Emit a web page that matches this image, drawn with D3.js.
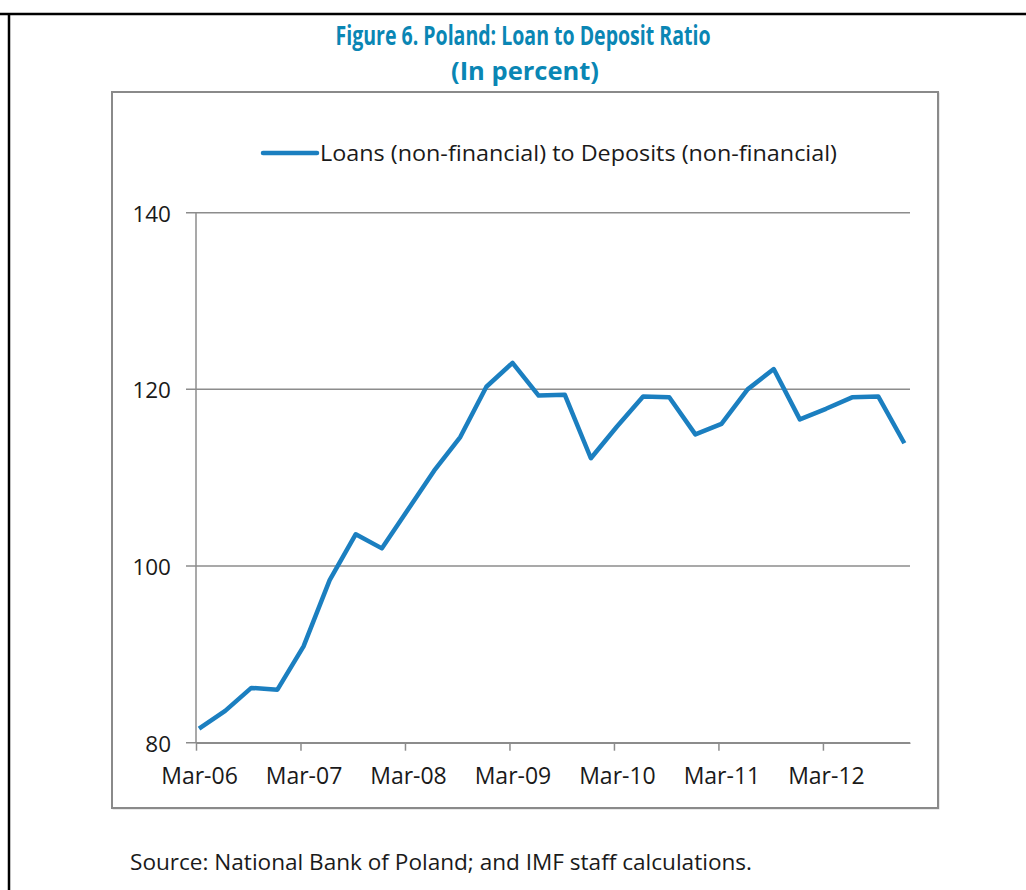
<!DOCTYPE html>
<html>
<head>
<meta charset="utf-8">
<script src="https://cdn.jsdelivr.net/npm/d3@7"></script>
<style>
  body { margin: 0; background: #fff; }
  svg text { font-family: "Open Sans", "DejaVu Sans", sans-serif; fill: #1a1a1a; }
  .title { font-weight: bold; fill: #0a86b4; }
  .grid line { stroke: #8c8c8c; stroke-width: 1.5; }
  .axis path, .axis line { stroke: #8c8c8c; stroke-width: 1.5; }
</style>
</head>
<body>
<div id="chart"></div>
<script>
// quarterly observations, Mar-06 .. Dec-12
var quarters = ["Mar-06","Jun-06","Sep-06","Dec-06","Mar-07","Jun-07","Sep-07","Dec-07",
                "Mar-08","Jun-08","Sep-08","Dec-08","Mar-09","Jun-09","Sep-09","Dec-09",
                "Mar-10","Jun-10","Sep-10","Dec-10","Mar-11","Jun-11","Sep-11","Dec-11",
                "Mar-12","Jun-12","Sep-12","Dec-12"];
var ratio = [81.6, 83.6, 86.2, 86.0, 90.9, 98.4, 103.6, 102.0,
             106.4, 110.8, 114.6, 120.3, 123.0, 119.3, 119.4, 112.2,
             115.8, 119.2, 119.1, 114.9, 116.1, 120.0, 122.3, 116.6,
             117.8, 119.1, 119.2, 113.9];
var yTicks = [80, 100, 120, 140];
var xTickLabels = ["Mar-06","Mar-07","Mar-08","Mar-09","Mar-10","Mar-11","Mar-12"];
var seriesName = "Loans (non-financial) to Deposits (non-financial)";

function init() {
    var W = 1026, H = 890;
    var margin = {top: 212.7, left: 196, right: 116, bottom: 147.3},
        w = W - margin.left - margin.right,
        h = H - margin.top - margin.bottom;

    var svg = d3.select("#chart").append("svg")
        .attr("width", W)
        .attr("height", H);

    // outer page frame (top and left rules)
    svg.append("line").attr("x1", 0).attr("x2", W).attr("y1", 14).attr("y2", 14)
       .attr("stroke", "#000").attr("stroke-width", 2.5);
    svg.append("line").attr("x1", 9).attr("x2", 9).attr("y1", 13).attr("y2", H)
       .attr("stroke", "#000").attr("stroke-width", 2.5);

    svg.append("text").attr("class", "title")
       .attr("x", 523).attr("y", 45)
       .attr("text-anchor", "middle")
       .attr("font-size", 26)
       .attr("textLength", 375).attr("lengthAdjust", "spacingAndGlyphs")
       .text("Figure 6. Poland: Loan to Deposit Ratio");
    svg.append("text").attr("class", "title")
       .attr("x", 525).attr("y", 80)
       .attr("text-anchor", "middle")
       .attr("font-size", 25)
       .attr("textLength", 148).attr("lengthAdjust", "spacingAndGlyphs")
       .text("(In percent)");

    // chart box
    svg.append("rect")
       .attr("x", 113).attr("y", 93).attr("width", 826).attr("height", 716)
       .attr("fill", "#fff").attr("stroke", "#d4d4d4").attr("stroke-width", 1);
    svg.append("rect")
       .attr("x", 112).attr("y", 92).attr("width", 826).attr("height", 716)
       .attr("fill", "#fff").attr("stroke", "#8a8a8a").attr("stroke-width", 2);

    // month-based x scale: domain Mar-06 .. Jan-13
    var x = d3.scaleLinear().domain([0, 82]).range([0, w]),
        y = d3.scaleLinear().domain([80, 140]).range([h, 0]);

    var g = svg.append("g")
        .attr("transform", "translate(" + margin.left + "," + margin.top + ")");

    g.append("g").attr("class", "grid")
     .selectAll("line").data(yTicks).enter().append("line")
     .attr("x1", -10).attr("x2", w)
     .attr("y1", function(d) { return y(d); })
     .attr("y2", function(d) { return y(d); });

    g.selectAll(".ylab").data(yTicks).enter().append("text")
     .attr("class", "ylab")
     .attr("x", -25).attr("y", function(d) { return y(d) + 9; })
     .attr("text-anchor", "end")
     .attr("font-size", 22.5)
     .text(function(d) { return d; });

    var xAxis = d3.axisBottom(x)
        .tickValues(xTickLabels.map(function(d, i) { return i * 12; }))
        .tickSize(8)
        .tickSizeOuter(0)
        .tickFormat(function(d) { return xTickLabels[d / 12]; });

    var xg = g.append("g")
       .attr("class", "x axis")
       .attr("transform", "translate(0," + h + ")")
       .call(xAxis);
    xg.selectAll("text")
       .attr("font-size", 23)
       .attr("dx", 3)
       .attr("y", 25)
       .attr("fill", "#1a1a1a")
       .style("font-family", "'Open Sans', sans-serif");

    g.append("line").attr("class", "yaxis")
     .attr("x1", 0).attr("x2", 0).attr("y1", 0).attr("y2", h)
     .attr("stroke", "#8c8c8c").attr("stroke-width", 1.5);

    var line = d3.line()
        .x(function(d, i) { return x(i * 3 + 0.35); })
        .y(function(d) { return y(d); });

    g.append("path")
     .datum(ratio)
     .attr("fill", "none")
     .attr("stroke", "#1b7fc0")
     .attr("stroke-width", 4.5)
     .attr("stroke-linejoin", "round")
     .attr("d", line);

    // legend
    svg.append("line")
       .attr("x1", 263).attr("x2", 317).attr("y1", 153).attr("y2", 153)
       .attr("stroke", "#1b7fc0").attr("stroke-width", 4.5)
       .attr("stroke-linecap", "round");
    svg.append("text")
       .attr("x", 320).attr("y", 161)
       .attr("font-size", 21)
       .attr("textLength", 517).attr("lengthAdjust", "spacingAndGlyphs")
       .text(seriesName);

    svg.append("text")
       .attr("x", 130).attr("y", 870)
       .attr("font-size", 21)
       .attr("textLength", 622).attr("lengthAdjust", "spacingAndGlyphs")
       .text("Source: National Bank of Poland; and IMF staff calculations.");
}
init();
</script>
</body>
</html>
